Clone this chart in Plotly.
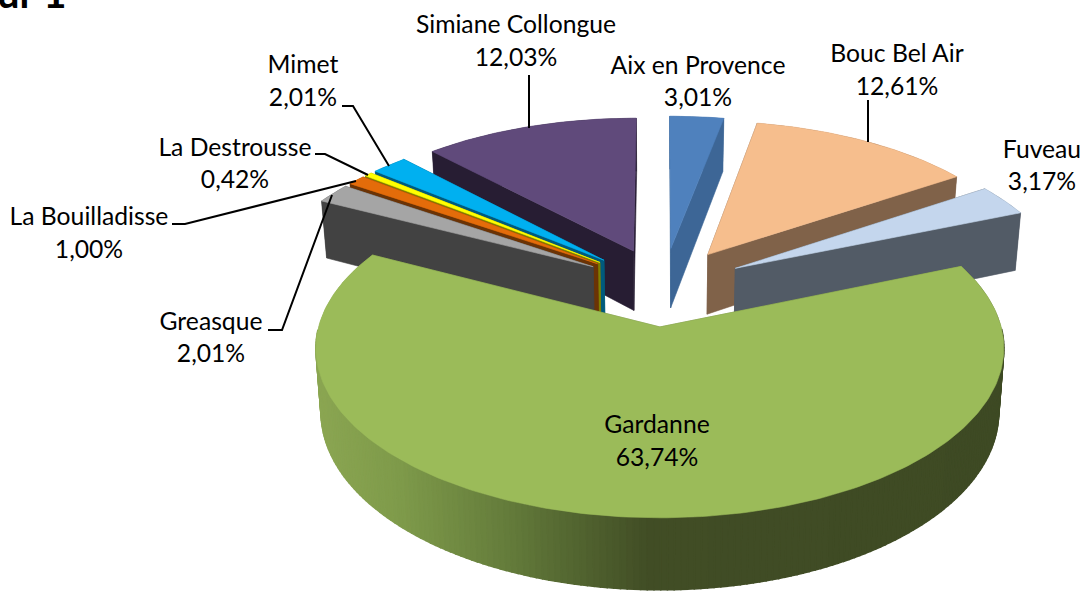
import math
import plotly.graph_objects as go

# ---- data
communes = ["Aix en Provence", "Bouc Bel Air", "Fuveau", "Gardanne", "Greasque",
            "La Bouilladisse", "La Destrousse", "Mimet", "Simiane Collongue"]
shares = [3.01, 12.61, 3.17, 63.74, 2.01, 1.00, 0.42, 2.01, 12.03]

# ---- styles
top_colors = ["#4F81BD", "#F6BE8D", "#C4D6ED", "#9BBB59", "#A5A5A5",
              "#E46C0A", "#FFFF00", "#00B0F0", "#604A7B"]
wall_colors = ["#3D6696", "#806249", "#525B66", "#6B8340", "#424242",
               "#6B3305", "#7F7F00", "#005A7C", "#271D33"]
gardanne_stops = [(316, (0x8B, 0xA6, 0x52)), (400, (0x7E, 0x9A, 0x4A)), (500, (0x66, 0x7E, 0x3C)),
                  (560, (0x56, 0x6A, 0x33)), (650, (0x41, 0x4D, 0x25)), (1004, (0x3E, 0x4A, 0x24))]

# ---- label placement (centre of each text line)
label_x = [698, 897, 1042, 657, 211, 89, 235, 303, 516]
name_y = [68, 56, 152, 427, 324, 219, 150, 67, 27]
pct_y = [100, 89, 184, 460, 356, 252, 182, 100, 60]
leaders = [
    ([342, 353, 389], [106, 106, 166]),
    ([315, 325, 368], [154, 154, 175]),
    ([172, 185, 356], [224, 224, 181]),
    ([268, 282, 332], [330, 330, 195]),
    ([529, 529], [75, 128]),
    ([868, 868], [100, 142]),
]

# ---- projection of the pie plane to the page
CX, CY = 660.0, 327.0
A, B, K = 341.3, 167.0, 0.125
DEPTH = 63.0
SHRINK = 0.985
EXPLODE = 0.25
CU, CV = 0.01, -0.25


def project(u, v, low=False):
    w = 1 - K * v
    x = A * u / w
    y = B * v / w
    if low:
        return CX + x * SHRINK, CY + y + DEPTH / w
    return CX + x, CY + y


def lerp_color(x):
    s = gardanne_stops
    if x <= s[0][0]:
        c = s[0][1]
    elif x >= s[-1][0]:
        c = s[-1][1]
    else:
        for (x0, c0), (x1, c1) in zip(s, s[1:]):
            if x0 <= x <= x1:
                t = (x - x0) / (x1 - x0)
                c = tuple(round(a + (b - a) * t) for a, b in zip(c0, c1))
                break
    return "rgb(%d,%d,%d)" % c


def poly(points, color, stroke=0.6):
    xs = [p[0] for p in points] + [points[0][0]]
    ys = [p[1] for p in points] + [points[0][1]]
    return go.Scatter(x=xs, y=ys, mode="lines", fill="toself", fillcolor=color,
                      line=dict(color=color, width=stroke), hoverinfo="skip", showlegend=False)


slices = []
acc = 0.0
total = sum(shares)
for i, share in enumerate(shares):
    a0 = acc / total * 2 * math.pi
    acc += share
    a1 = acc / total * 2 * math.pi
    mid = (a0 + a1) / 2
    au = CU + EXPLODE * math.sin(mid)
    av = CV - EXPLODE * math.cos(mid)
    slices.append(dict(i=i, a0=a0, a1=a1, au=au, av=av))
slices.sort(key=lambda s: s["av"])

fig = go.Figure()
for s in slices:
    i = s["i"]
    n = max(2, int((s["a1"] - s["a0"]) / math.radians(1.0)))
    angles = [s["a0"] + (s["a1"] - s["a0"]) * j / n for j in range(n + 1)]
    rim = [(s["au"] + math.sin(t), s["av"] - math.cos(t)) for t in angles]
    apex = (s["au"], s["av"])
    walls = []
    for e in (rim[0], rim[-1]):
        walls.append(((apex[1] + e[1]) / 2,
                      [project(*apex), project(*e), project(*e, low=True), project(*apex, low=True)],
                      wall_colors[i], 0.6))
    for j, (p, q) in enumerate(zip(rim, rim[1:])):
        quad = [project(*p), project(*q), project(*q, low=True), project(*p, low=True)]
        tm = (angles[j] + angles[j + 1]) / 2
        front = -math.cos(tm) > 0.02
        col = wall_colors[i]
        if communes[i] == "Gardanne":
            col = lerp_color((quad[0][0] + quad[1][0]) / 2)
        walls.append(((p[1] + q[1]) / 2, quad, col, 1.5 if front else 0))
    walls.sort(key=lambda w: w[0])
    for _, quad, col, stroke in walls:
        fig.add_trace(poly(quad, col, stroke))
    fig.add_trace(poly([project(*apex)] + [project(*p) for p in rim], top_colors[i]))

for lx, ly in leaders:
    fig.add_trace(go.Scatter(x=lx, y=ly, mode="lines", line=dict(color="black", width=2),
                             hoverinfo="skip", showlegend=False))

FONT = dict(family="Lato, Open Sans, sans-serif", size=24.7, color="black")
fig.add_trace(go.Scatter(x=label_x, y=name_y, mode="text", text=communes, textposition="middle center",
                         textfont=FONT, hoverinfo="skip", showlegend=False, cliponaxis=False))
fig.add_trace(go.Scatter(x=label_x, y=pct_y, mode="text",
                         text=[f"{v:.2f}".replace(".", ",") + "%" for v in shares],
                         textposition="middle center", textfont=FONT, hoverinfo="skip",
                         showlegend=False, cliponaxis=False))

fig.add_annotation(x=67, y=17, xref="x", yref="y", text="<b>ur 1</b>", showarrow=False,
                   xanchor="right", yanchor="bottom", borderpad=0, borderwidth=0,
                   font=dict(family="Lato, Open Sans, sans-serif", size=40, color="black"))

fig.update_layout(
    width=1085, height=591, margin=dict(l=0, r=0, t=0, b=0),
    paper_bgcolor="white", plot_bgcolor="white", showlegend=False,
    xaxis=dict(range=[0, 1085], visible=False, fixedrange=True),
    yaxis=dict(range=[591, 0], visible=False, fixedrange=True),
)
fig.write_html("out.html", config={"displayModeBar": False},
               post_script="document.body.style.margin='0';")
